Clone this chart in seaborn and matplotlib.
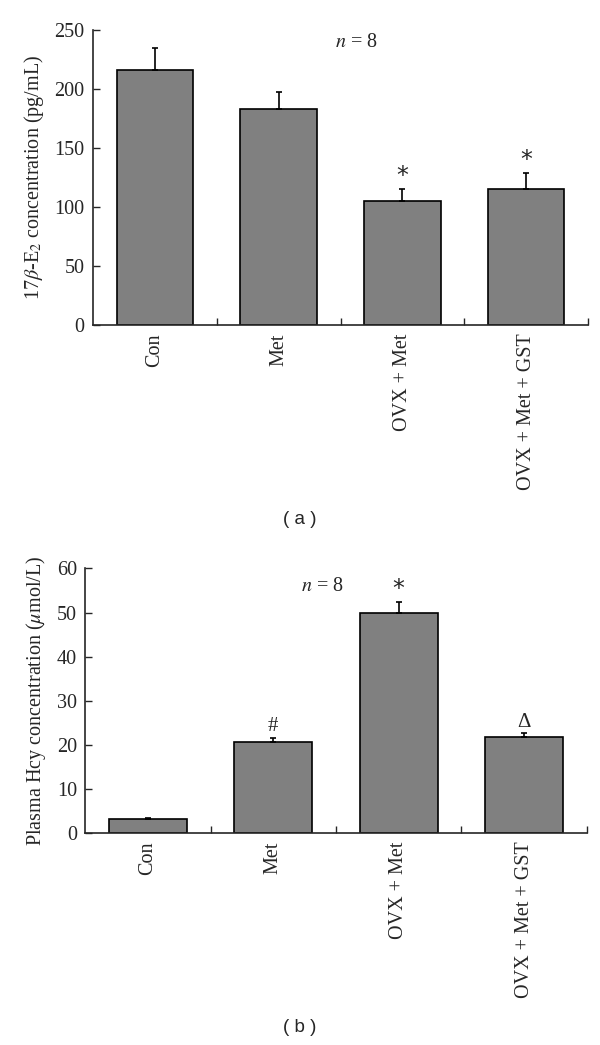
import numpy as np
import pandas as pd
import matplotlib
matplotlib.use("Agg")
import matplotlib.pyplot as plt
from matplotlib.ticker import FixedLocator
import seaborn as sns

# ── Data ───────────────────────────────────────────────────────────────────────

groups = ["Con", "Met", "OVX + Met", "OVX + Met + GST"]

e2_mean = [216.4, 183.6, 105.4, 115.3]
e2_sem = [18.3, 14.1, 10.1, 13.5]
e2_marks = ["", "", "*", "*"]

hcy_mean = [3.2, 20.6, 50.0, 21.8]
hcy_sem = [0.2, 1.0, 2.4, 0.8]
hcy_marks = ["", "#", "*", "Δ"]

# ── Style ──────────────────────────────────────────────────────────────────────

sns.set_style("ticks")
plt.rcParams["font.family"] = ["Liberation Serif", "DejaVu Serif"]
plt.rcParams["mathtext.fontset"] = "stix"
BAR = "#808080"
FS = 14.5


def draw_panel(ax, means, sems, marks, ylim, yticks, ylabel, n_pos, mark_pad):
    df = pd.DataFrame({"group": groups, "value": means})
    sns.barplot(data=df, x="group", y="value", color=BAR, width=0.62,
                edgecolor="black", linewidth=1.2, saturation=1, ax=ax)
    x = np.arange(len(groups))
    ax.errorbar(x, means, yerr=[np.zeros(len(sems)), sems], fmt="none",
                ecolor="black", elinewidth=1.2, capsize=2.5, capthick=1.2)
    for xi, m, s, lab in zip(x, means, sems, marks):
        if lab == "*":
            ax.text(xi, m + s + mark_pad, lab, ha="center", va="bottom",
                    fontsize=17, family=["DejaVu Sans"])
        elif lab:
            ax.text(xi, m + s + mark_pad, lab, ha="center", va="bottom",
                    fontsize=15)
    ax.text(n_pos[0], n_pos[1], r"$n$ = 8", ha="center", va="center",
            fontsize=FS)
    ax.set_xlim(-0.5, len(groups) - 0.5)
    ax.set_ylim(*ylim)
    ax.set_yticks(yticks)
    ax.set_xlabel("")
    ax.set_ylabel(ylabel, fontsize=FS, labelpad=6)
    ax.set_xticks(x)
    ax.set_xticklabels(groups, rotation=90, fontsize=FS)
    ax.xaxis.set_minor_locator(FixedLocator([0.5, 1.5, 2.5, 3.5]))
    ax.tick_params(axis="x", which="major", length=0, pad=6)
    ax.tick_params(axis="x", which="minor", direction="in", length=5, width=1)
    ax.tick_params(axis="y", direction="in", length=5, width=1,
                   labelsize=FS, pad=6)
    for sp in ["top", "right"]:
        ax.spines[sp].set_visible(False)
    for sp in ["left", "bottom"]:
        ax.spines[sp].set_linewidth(1.2)


fig = plt.figure(figsize=(6.0, 10.45), dpi=100)

ax1 = fig.add_axes([0.155, 0.689, 0.825, 0.282])
draw_panel(ax1, e2_mean, e2_sem, e2_marks, (0, 250), [0, 50, 100, 150, 200, 250],
           r"17$\beta$-E$_2$ concentration (pg/mL)", (1.63, 240), 1)

ax2 = fig.add_axes([0.142, 0.203, 0.836, 0.253])
draw_panel(ax2, hcy_mean, hcy_sem, hcy_marks, (0, 60), [0, 10, 20, 30, 40, 50, 60],
           r"Plasma Hcy concentration ($\mu$mol/L)", (1.39, 56), 0.3)

fig.text(0.5, 1 - 519 / 1045, "( a )", ha="center", va="center",
         fontsize=13.5, family=["Liberation Sans"])
fig.text(0.5, 1 - 1027 / 1045, "( b )", ha="center", va="center",
         fontsize=13.5, family=["Liberation Sans"])

fig.savefig("out.png", dpi=100)
